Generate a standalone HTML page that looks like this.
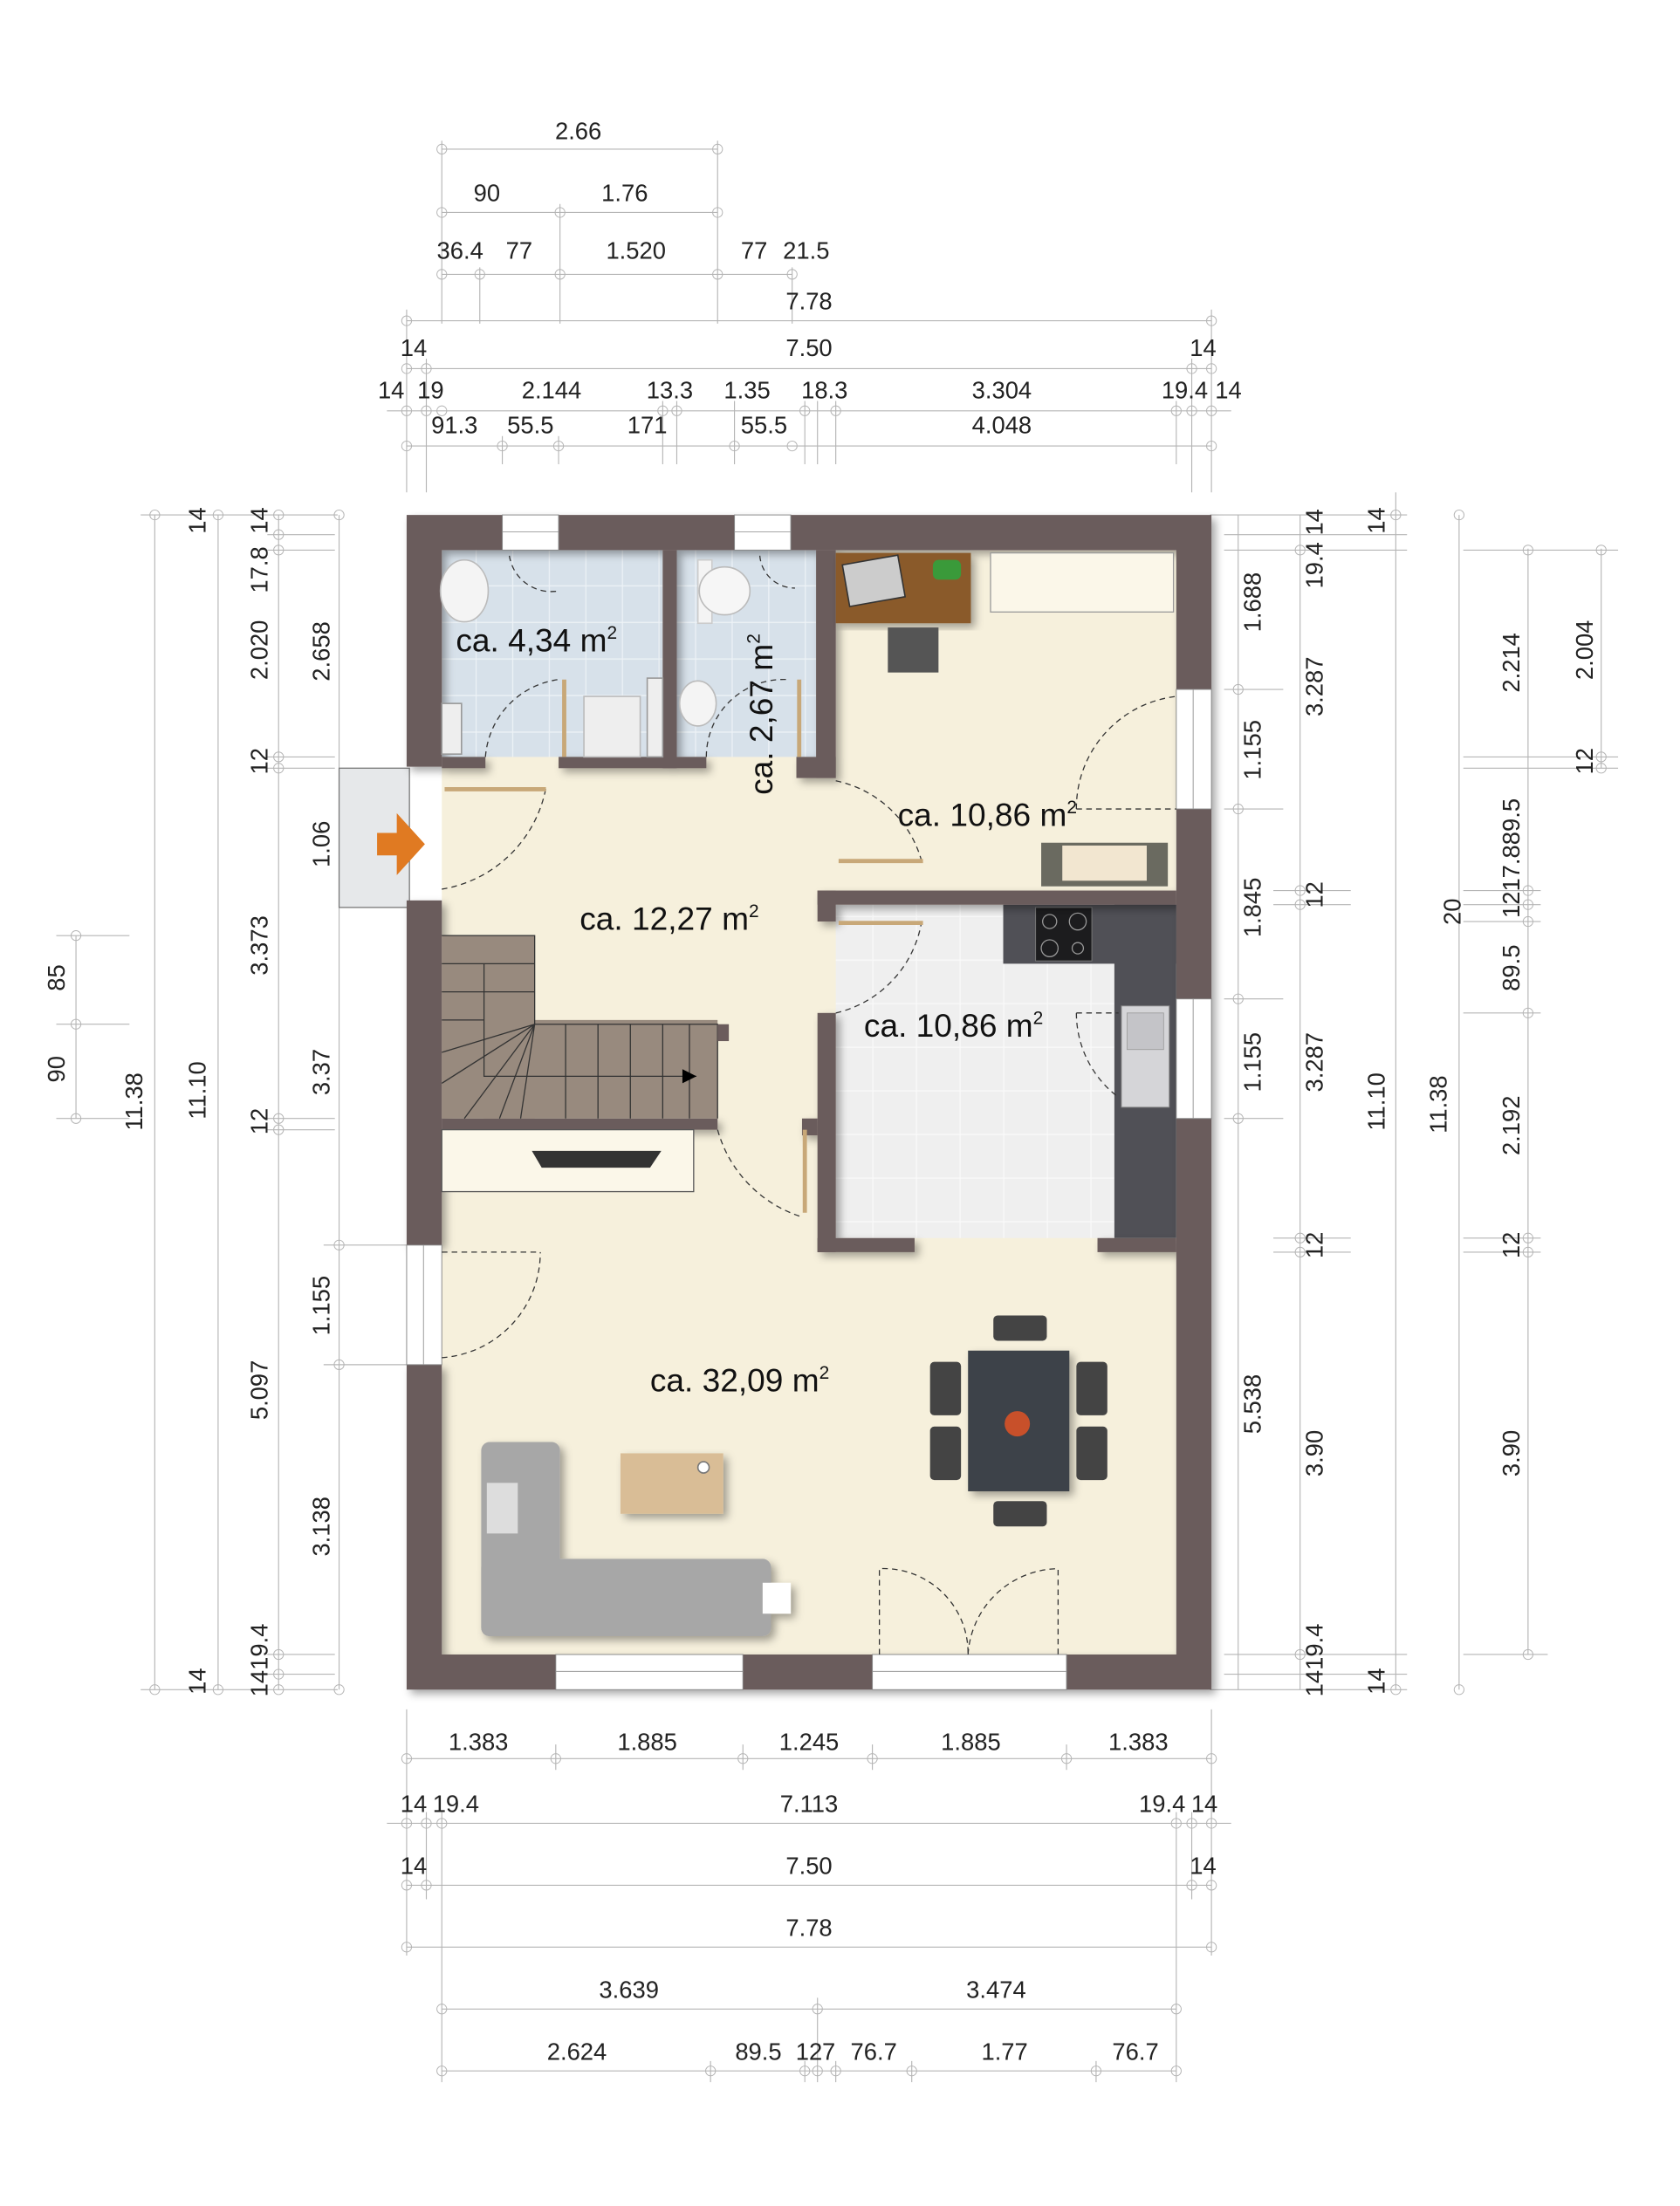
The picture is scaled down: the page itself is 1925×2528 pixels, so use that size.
<!DOCTYPE html>
<html><head><meta charset="utf-8"><style>html,body{margin:0;padding:0;background:#fff}svg{display:block}</style></head><body>
<svg width="1925" height="2528" viewBox="0 0 1194 1568" xmlns="http://www.w3.org/2000/svg" font-family="Liberation Sans, sans-serif">
<defs>
<pattern id="bt" width="26" height="26" patternUnits="userSpaceOnUse"><rect width="26" height="26" fill="#d7e1ea"/><path d="M0 0H26M0 0V26" stroke="#eef3f7" stroke-width="1.5"/></pattern>
<pattern id="kt" width="31" height="31" patternUnits="userSpaceOnUse"><rect width="31" height="31" fill="#efefef"/><path d="M0 0H31M0 0V31" stroke="#fafafa" stroke-width="1.5"/></pattern>
<filter id="sh"><feDropShadow dx="3" dy="3" stdDeviation="3" flood-opacity="0.35"/></filter>
</defs>
<rect width="1194" height="1568" fill="#fff"/>
<g stroke="#b5b5b5" stroke-width="0.7" fill="none">
<path d="M314 106H510M314 151H510M314 195H563M289 228H861M289 262H861M275 292H875M289 317H861"/>
<path d="M314 100V230M510 100V230M398 145V230M341 190V230M563 190V230M289 220V350M861 220V350M303 255V350M847 255V350M471 285V330M481 285V330M522 285V330M572 285V330M581 285V330M594 285V330M836 285V330M357 310V330M397 310V330"/>
<path d="M289 1250H861M275 1296H875M289 1340H861M289 1384H861M314 1428H836M314 1472H836"/>
<path d="M289 1215V1390M861 1215V1390M395 1240V1258M528 1240V1258M620 1240V1258M758 1240V1258M303 1288V1350M314 1288V1480M836 1288V1480M847 1288V1350M581 1420V1480M505 1465V1480M572 1465V1480M594 1465V1480M648 1465V1480M779 1465V1480"/>
<path d="M54 665V795M110 366V1201M155 366V1201M198 366V1201M241 366V1201"/>
<path d="M40 665H92M40 728H92M40 795H92M100 366H240M100 1201H240M190 380H238M190 391H238M190 538H238M190 546H238M190 795H238M190 803H238M190 1176H238M190 1190H238M230 885H289M230 970H289"/>
<path d="M880 366V1201M924 366V1201M992 350V1201M1037 366V1201M1086 390V1176M1138 390V546"/>
<path d="M860 366H1000M860 1201H1000M870 380H1000M870 391H1000M870 490H912M870 575H912M870 710H912M870 795H912M905 633H960M905 643H960M905 880H960M905 890H960M870 1176H1000M870 1190H1000M1040 391H1150M1040 538H1150M1040 546H1150M1040 633H1095M1040 643H1095M1040 655H1095M1040 720H1095M1040 880H1095M1040 890H1095M1040 1176H1100"/>
</g>
<g fill="none" stroke="#b5b5b5" stroke-width="0.6">
<circle cx="314" cy="106" r="3.5"/><circle cx="510" cy="106" r="3.5"/><circle cx="314" cy="151" r="3.5"/><circle cx="398" cy="151" r="3.5"/><circle cx="510" cy="151" r="3.5"/>
<circle cx="314" cy="195" r="3.5"/><circle cx="341" cy="195" r="3.5"/><circle cx="398" cy="195" r="3.5"/><circle cx="510" cy="195" r="3.5"/><circle cx="563" cy="195" r="3.5"/>
<circle cx="289" cy="228" r="3.5"/><circle cx="861" cy="228" r="3.5"/><circle cx="289" cy="262" r="3.5"/><circle cx="303" cy="262" r="3.5"/><circle cx="847" cy="262" r="3.5"/><circle cx="861" cy="262" r="3.5"/>
<circle cx="289" cy="292" r="3.5"/><circle cx="303" cy="292" r="3.5"/><circle cx="314" cy="292" r="3.5"/><circle cx="471" cy="292" r="3.5"/><circle cx="481" cy="292" r="3.5"/><circle cx="572" cy="292" r="3.5"/><circle cx="594" cy="292" r="3.5"/><circle cx="836" cy="292" r="3.5"/><circle cx="847" cy="292" r="3.5"/><circle cx="861" cy="292" r="3.5"/>
<circle cx="289" cy="317" r="3.5"/><circle cx="357" cy="317" r="3.5"/><circle cx="397" cy="317" r="3.5"/><circle cx="522" cy="317" r="3.5"/><circle cx="563" cy="317" r="3.5"/><circle cx="861" cy="317" r="3.5"/>
<circle cx="289" cy="1250" r="3.5"/><circle cx="395" cy="1250" r="3.5"/><circle cx="528" cy="1250" r="3.5"/><circle cx="620" cy="1250" r="3.5"/><circle cx="758" cy="1250" r="3.5"/><circle cx="861" cy="1250" r="3.5"/>
<circle cx="289" cy="1296" r="3.5"/><circle cx="303" cy="1296" r="3.5"/><circle cx="314" cy="1296" r="3.5"/><circle cx="836" cy="1296" r="3.5"/><circle cx="847" cy="1296" r="3.5"/><circle cx="861" cy="1296" r="3.5"/>
<circle cx="289" cy="1340" r="3.5"/><circle cx="303" cy="1340" r="3.5"/><circle cx="847" cy="1340" r="3.5"/><circle cx="861" cy="1340" r="3.5"/><circle cx="289" cy="1384" r="3.5"/><circle cx="861" cy="1384" r="3.5"/>
<circle cx="314" cy="1428" r="3.5"/><circle cx="581" cy="1428" r="3.5"/><circle cx="836" cy="1428" r="3.5"/>
<circle cx="314" cy="1472" r="3.5"/><circle cx="505" cy="1472" r="3.5"/><circle cx="572" cy="1472" r="3.5"/><circle cx="581" cy="1472" r="3.5"/><circle cx="594" cy="1472" r="3.5"/><circle cx="648" cy="1472" r="3.5"/><circle cx="779" cy="1472" r="3.5"/><circle cx="836" cy="1472" r="3.5"/>
<circle cx="54" cy="665" r="3.5"/><circle cx="54" cy="728" r="3.5"/><circle cx="54" cy="795" r="3.5"/><circle cx="110" cy="366" r="3.5"/><circle cx="110" cy="1201" r="3.5"/><circle cx="155" cy="366" r="3.5"/><circle cx="155" cy="1201" r="3.5"/>
<circle cx="198" cy="366" r="3.5"/><circle cx="198" cy="380" r="3.5"/><circle cx="198" cy="391" r="3.5"/><circle cx="198" cy="538" r="3.5"/><circle cx="198" cy="546" r="3.5"/><circle cx="198" cy="795" r="3.5"/><circle cx="198" cy="803" r="3.5"/><circle cx="198" cy="1176" r="3.5"/><circle cx="198" cy="1190" r="3.5"/><circle cx="198" cy="1201" r="3.5"/>
<circle cx="241" cy="366" r="3.5"/><circle cx="241" cy="885" r="3.5"/><circle cx="241" cy="970" r="3.5"/><circle cx="241" cy="1201" r="3.5"/>
<circle cx="880" cy="490" r="3.5"/><circle cx="880" cy="575" r="3.5"/><circle cx="880" cy="710" r="3.5"/><circle cx="880" cy="795" r="3.5"/><circle cx="924" cy="391" r="3.5"/><circle cx="924" cy="633" r="3.5"/><circle cx="924" cy="643" r="3.5"/><circle cx="924" cy="880" r="3.5"/><circle cx="924" cy="890" r="3.5"/><circle cx="924" cy="1176" r="3.5"/>
<circle cx="992" cy="366" r="3.5"/><circle cx="992" cy="1201" r="3.5"/><circle cx="1037" cy="366" r="3.5"/><circle cx="1037" cy="1201" r="3.5"/><circle cx="1086" cy="391" r="3.5"/><circle cx="1086" cy="633" r="3.5"/><circle cx="1086" cy="643" r="3.5"/><circle cx="1086" cy="655" r="3.5"/><circle cx="1086" cy="720" r="3.5"/><circle cx="1086" cy="880" r="3.5"/><circle cx="1086" cy="890" r="3.5"/><circle cx="1086" cy="1176" r="3.5"/><circle cx="1138" cy="391" r="3.5"/><circle cx="1138" cy="538" r="3.5"/><circle cx="1138" cy="546" r="3.5"/>
</g>
<g font-size="17" fill="#222" text-anchor="middle">
<text x="411" y="99">2.66</text><text x="346" y="143">90</text><text x="444" y="143">1.76</text>
<text x="327" y="184">36.4</text><text x="369" y="184">77</text><text x="452" y="184">1.520</text><text x="536" y="184">77</text><text x="573" y="184">21.5</text>
<text x="575" y="220">7.78</text><text x="294" y="253">14</text><text x="575" y="253">7.50</text><text x="855" y="253">14</text>
<text x="278" y="283">14</text><text x="306" y="283">19</text><text x="392" y="283">2.144</text><text x="476" y="283">13.3</text><text x="531" y="283">1.35</text><text x="586" y="283">18.3</text><text x="712" y="283">3.304</text><text x="842" y="283">19.4</text><text x="873" y="283">14</text>
<text x="323" y="308">91.3</text><text x="377" y="308">55.5</text><text x="460" y="308">171</text><text x="543" y="308">55.5</text><text x="712" y="308">4.048</text>
<text x="340" y="1244">1.383</text><text x="460" y="1244">1.885</text><text x="575" y="1244">1.245</text><text x="690" y="1244">1.885</text><text x="809" y="1244">1.383</text>
<text x="294" y="1288">14</text><text x="324" y="1288">19.4</text><text x="575" y="1288">7.113</text><text x="826" y="1288">19.4</text><text x="856" y="1288">14</text>
<text x="294" y="1332">14</text><text x="575" y="1332">7.50</text><text x="855" y="1332">14</text><text x="575" y="1376">7.78</text>
<text x="447" y="1420">3.639</text><text x="708" y="1420">3.474</text>
<text x="410" y="1464">2.624</text><text x="539" y="1464">89.5</text><text x="575" y="1464">12</text><text x="589" y="1464">7</text><text x="621" y="1464">76.7</text><text x="714" y="1464">1.77</text><text x="807" y="1464">76.7</text>
</g>
<g font-size="17" fill="#222" text-anchor="middle">
<text transform="translate(46,695) rotate(-90)">85</text><text transform="translate(46,760) rotate(-90)">90</text>
<text transform="translate(101,783) rotate(-90)">11.38</text>
<text transform="translate(146,370) rotate(-90)">14</text><text transform="translate(146,775) rotate(-90)">11.10</text><text transform="translate(146,1195) rotate(-90)">14</text>
<text transform="translate(190,370) rotate(-90)">14</text><text transform="translate(190,405) rotate(-90)">17.8</text><text transform="translate(190,462) rotate(-90)">2.020</text><text transform="translate(190,541) rotate(-90)">12</text><text transform="translate(190,672) rotate(-90)">3.373</text><text transform="translate(190,797) rotate(-90)">12</text><text transform="translate(190,988) rotate(-90)">5.097</text><text transform="translate(190,1180) rotate(-90)">1419.4</text>
<text transform="translate(234,463) rotate(-90)">2.658</text><text transform="translate(234,600) rotate(-90)">1.06</text><text transform="translate(234,762) rotate(-90)">3.37</text><text transform="translate(234,928) rotate(-90)">1.155</text><text transform="translate(234,1085) rotate(-90)">3.138</text>
<text transform="translate(896,428) rotate(-90)">1.688</text><text transform="translate(896,533) rotate(-90)">1.155</text><text transform="translate(896,645) rotate(-90)">1.845</text><text transform="translate(896,755) rotate(-90)">1.155</text><text transform="translate(896,998) rotate(-90)">5.538</text>
<text transform="translate(940,390) rotate(-90)">19.4 14</text><text transform="translate(940,488) rotate(-90)">3.287</text><text transform="translate(940,636) rotate(-90)">12</text><text transform="translate(940,755) rotate(-90)">3.287</text><text transform="translate(940,885) rotate(-90)">12</text><text transform="translate(940,1033) rotate(-90)">3.90</text><text transform="translate(940,1180) rotate(-90)">1419.4</text>
<text transform="translate(984,370) rotate(-90)">14</text><text transform="translate(984,783) rotate(-90)">11.10</text><text transform="translate(984,1195) rotate(-90)">14</text>
<text transform="translate(1028,785) rotate(-90)">11.38</text><text transform="translate(1038,648) rotate(-90)">20</text>
<text transform="translate(1080,471) rotate(-90)">2.214</text><text transform="translate(1080,610) rotate(-90)">1217.889.5</text><text transform="translate(1080,688) rotate(-90)">89.5</text><text transform="translate(1080,800) rotate(-90)">2.192</text><text transform="translate(1080,885) rotate(-90)">12</text><text transform="translate(1080,1033) rotate(-90)">3.90</text>
<text transform="translate(1132,462) rotate(-90)">2.004</text><text transform="translate(1132,541) rotate(-90)">12</text>
</g>
<rect x="241" y="546" width="50" height="99" fill="#e6e8ea" stroke="#777" stroke-width="0.8"/>
<path d="M268 592H282V578L302 600L282 622V608H268Z" fill="#e07a22"/>
<rect x="314" y="391" width="522" height="785" fill="#f6f0dc"/>
<rect x="314" y="391" width="157" height="147" fill="url(#bt)"/>
<rect x="481" y="391" width="99" height="147" fill="url(#bt)"/>
<rect x="594" y="643" width="242" height="237" fill="url(#kt)"/>
<rect x="713" y="643" width="123" height="42" fill="#505056"/>
<rect x="792" y="643" width="44" height="237" fill="#505056"/>
<rect x="736" y="645" width="40" height="38" fill="#1c1c1e" stroke="#777" stroke-width="0.6"/>
<g fill="none" stroke="#999" stroke-width="0.8"><circle cx="746" cy="655" r="5"/><circle cx="766" cy="655" r="6"/><circle cx="746" cy="674" r="6"/><circle cx="766" cy="674" r="4"/></g>
<rect x="797" y="715" width="34" height="72" fill="#d5d5d8" stroke="#888" stroke-width="0.6"/>
<rect x="801" y="720" width="26" height="26" fill="#c4c4c8" stroke="#999" stroke-width="0.5"/>
<g fill="#6b5c5c" filter="url(#sh)">
<path d="M289 366H861V1201H289V970H314V1176H836V391H314V545H289Z"/>
<rect x="289" y="640" width="25" height="245"/>
<rect x="471" y="391" width="10" height="155"/>
<rect x="314" y="538" width="31" height="8"/><rect x="397" y="538" width="84" height="8"/><rect x="481" y="538" width="21" height="8"/>
<rect x="580" y="391" width="14" height="162"/><rect x="566" y="538" width="28" height="15"/>
<rect x="581" y="633" width="255" height="10"/><rect x="581" y="633" width="13" height="22"/>
<rect x="581" y="720" width="13" height="170"/><rect x="581" y="880" width="69" height="10"/><rect x="780" y="880" width="56" height="10"/>
<rect x="570" y="795" width="11" height="12"/>
<rect x="314" y="795" width="196" height="8"/>
</g>
<g fill="#fff" stroke="#888" stroke-width="0.6">
<rect x="357" y="366" width="40" height="25"/><rect x="522" y="366" width="40" height="25"/>
<rect x="836" y="490" width="25" height="85"/><rect x="836" y="710" width="25" height="85"/>
<rect x="289" y="885" width="25" height="85"/>
<rect x="395" y="1176" width="133" height="25"/><rect x="620" y="1176" width="138" height="25"/>
</g>
<g stroke="#999" stroke-width="0.6"><path d="M357 378H397M522 378H562M848 490V575M848 710V795M301 885V970M395 1188H528M620 1188H758"/></g>
<g fill="none" stroke="#333" stroke-width="0.8" stroke-dasharray="4 3">
<path d="M314 632A90 90 0 0 0 388 560"/><path d="M345 538A60 60 0 0 1 397 483"/><path d="M502 538A55 55 0 0 1 560 483"/>
<path d="M362 395A30 30 0 0 0 397 420"/><path d="M540 395A25 25 0 0 0 565 418"/>
<path d="M594 555A80 80 0 0 1 655 612"/><path d="M765 575A80 80 0 0 1 836 495"/><path d="M765 575H836"/>
<path d="M594 720A80 80 0 0 0 655 655"/><path d="M765 720A75 75 0 0 0 795 780"/><path d="M765 720H795"/>
<path d="M510 803A90 90 0 0 0 570 865"/><path d="M314 965A75 75 0 0 0 384 890"/><path d="M314 890H384"/>
<path d="M625 1176V1115A60 60 0 0 1 688 1176"/><path d="M688 1176A65 65 0 0 1 752 1115V1176"/>
</g>
<g stroke="#c8a878" stroke-width="3"><path d="M316 561H388M401 483V538M568 483V538M596 612H656M596 656H656M572 803V862"/></g>
<ellipse cx="330" cy="420" rx="17" ry="22" fill="#f4f4f4" stroke="#bbb"/>
<rect x="314" y="500" width="14" height="36" fill="#eee" stroke="#999"/>
<rect x="415" y="495" width="40" height="43" fill="#eee" stroke="#bbb"/>
<rect x="460" y="482" width="11" height="56" fill="#eee" stroke="#999"/>
<rect x="496" y="398" width="10" height="45" fill="#f4f4f4" stroke="#ccc"/>
<ellipse cx="515" cy="420" rx="18" ry="17" fill="#f6f6f6" stroke="#bbb"/>
<ellipse cx="496" cy="500" rx="13" ry="16" fill="#f4f4f4" stroke="#bbb"/>
<rect x="594" y="393" width="96" height="50" fill="#8a5a2b" filter="url(#sh)"/>
<rect x="601" y="398" width="40" height="30" fill="#ccc" stroke="#333" transform="rotate(-10 620 413)"/>
<rect x="663" y="398" width="20" height="14" rx="4" fill="#3a9a3a"/>
<rect x="631" y="446" width="36" height="32" fill="#555"/>
<rect x="704" y="393" width="130" height="42" fill="#fbf7e9" stroke="#999" stroke-width="0.8"/>
<rect x="740" y="599" width="90" height="31" fill="#6a6a60"/><rect x="755" y="601" width="60" height="25" fill="#f2e6d0"/>
<rect x="314" y="665" width="66" height="130" fill="#988a7e"/><rect x="344" y="725" width="166" height="70" fill="#988a7e"/>
<g stroke="#333" stroke-width="0.8" fill="none"><path d="M314 665H380V728H510V795M344 685V765H495"/><path d="M314 685H380M314 705H380M314 725H344M402 728V795M425 728V795M448 728V795M471 728V795M490 728V795M380 728L314 770M380 728L330 795M380 728L355 795M380 728L370 795M380 728L314 748"/></g>
<path d="M485 760L495 765L485 770Z" fill="#000"/>
<rect x="510" y="728" width="8" height="12" fill="#6b5c5c"/>
<rect x="314" y="803" width="179" height="44" fill="#fbf7e9" stroke="#555" stroke-width="0.8"/>
<path d="M378 818H470L462 830H385Z" fill="#333"/>
<g filter="url(#sh)">
<rect x="342" y="1025" width="56" height="138" rx="6" fill="#a7a7a7"/>
<rect x="342" y="1108" width="206" height="55" rx="6" fill="#a7a7a7"/>
<rect x="346" y="1054" width="22" height="36" fill="#ddd"/>
<rect x="542" y="1125" width="20" height="22" fill="#fff"/>
<rect x="441" y="1033" width="73" height="43" fill="#d9bd96"/>
<rect x="688" y="960" width="72" height="100" fill="#3c4248"/>
</g>
<g fill="#444"><rect x="706" y="935" width="38" height="18" rx="3"/><rect x="706" y="1067" width="38" height="18" rx="3"/><rect x="661" y="968" width="22" height="38" rx="3"/><rect x="661" y="1014" width="22" height="38" rx="3"/><rect x="765" y="968" width="22" height="38" rx="3"/><rect x="765" y="1014" width="22" height="38" rx="3"/></g>
<circle cx="723" cy="1012" r="9" fill="#c8502a"/><circle cx="500" cy="1043" r="4" fill="#fff" stroke="#777"/>
<g font-size="23" fill="#111">
<text x="324" y="463">ca. 4,34 m<tspan font-size="13" dy="-9">2</tspan></text>
<text transform="translate(549,565) rotate(-90)">ca. 2,67 m<tspan font-size="13" dy="-9">2</tspan></text>
<text x="638" y="587">ca. 10,86 m<tspan font-size="13" dy="-9">2</tspan></text>
<text x="412" y="661">ca. 12,27 m<tspan font-size="13" dy="-9">2</tspan></text>
<text x="614" y="737">ca. 10,86 m<tspan font-size="13" dy="-9">2</tspan></text>
<text x="462" y="989">ca. 32,09 m<tspan font-size="13" dy="-9">2</tspan></text>
</g>
</svg>
</body></html>
